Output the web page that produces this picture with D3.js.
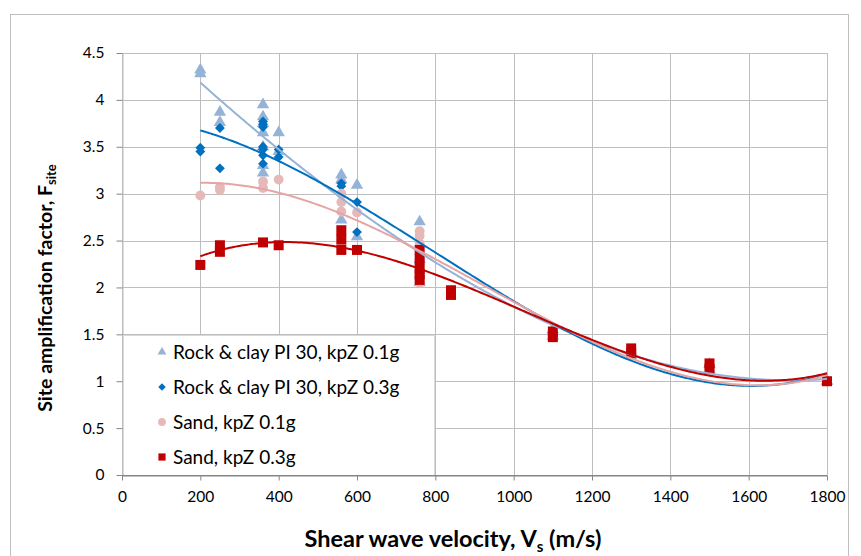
<!DOCTYPE html>
<html>
<head>
<meta charset="utf-8">
<script src="https://cdn.jsdelivr.net/npm/d3@7"></script>
<style>
  html, body { margin: 0; padding: 0; background: #fff; }
  svg { display: block; font-family: Lato, "Open Sans", sans-serif; }
</style>
</head>
<body>
<svg id="chart" width="861" height="556"></svg>
<script>
// Site amplification factor vs. shear wave velocity, four soil / kpZ cases
const seriesNames = [
  "Rock & clay PI 30, kpZ 0.1g",
  "Rock & clay PI 30, kpZ 0.3g",
  "Sand, kpZ 0.1g",
  "Sand, kpZ 0.3g"
];

// Rock & clay PI 30, kpZ 0.1g
const rock01Vs = [200,200, 250,250, 360,360,360,360,360,360,360, 400,400, 560,560,560, 600,600, 760,760,760, 1100,1100, 1300,1300, 1500,1500, 1800,1800];
const rock01F  = [4.32,4.28, 3.87,3.76, 3.95,3.82,3.75,3.65,3.50,3.30,3.22, 3.65,3.45, 3.20,3.15,2.72, 3.09,2.54, 2.70,2.30,2.05, 1.55,1.48, 1.32,1.27, 1.18,1.12, 1.00,1.00];

// Rock & clay PI 30, kpZ 0.3g
const rock03Vs = [200,200, 250,250, 360,360,360,360,360,360,360, 400,400, 560,560, 600,600, 760,760, 1100,1100, 1300,1300, 1500,1500, 1800,1800];
const rock03F  = [3.49,3.45, 3.70,3.27, 3.77,3.74,3.71,3.50,3.47,3.41,3.32, 3.47,3.39, 3.11,3.08, 2.91,2.59, 2.35,2.15, 1.53,1.47, 1.32,1.27, 1.18,1.12, 1.00,1.00];

// Sand, kpZ 0.1g
const sand01Vs = [200, 250,250, 360,360, 400, 560,560,560, 600, 760,760,760,760,760,760, 840, 1100,1100, 1300,1300, 1500,1500, 1800,1800];
const sand01F  = [2.98, 3.07,3.04, 3.13,3.06, 3.15, 3.00,2.91,2.81, 2.80, 2.60,2.55,2.47,2.30,2.15,2.05, 1.96, 1.53,1.48, 1.33,1.28, 1.18,1.12, 1.00,1.00];

// Sand, kpZ 0.3g
const sand03Vs = [200, 250,250, 360, 400, 560,560,560, 600, 760,760,760,760,760, 840,840, 1100,1100, 1300,1300, 1500,1500, 1800];
const sand03F  = [2.24, 2.45,2.38, 2.48, 2.45, 2.61,2.51,2.40, 2.40, 2.40,2.30,2.20,2.14,2.08, 1.97,1.92, 1.53,1.47, 1.35,1.30, 1.19,1.13, 1.00];

const xTicks = [0,200,400,600,800,1000,1200,1400,1600,1800];
const yTicks = [0,0.5,1,1.5,2,2.5,3,3.5,4,4.5];
const xTickLabels = xTicks.map(String);
const yTickLabels = yTicks.map(String);

const markerColors = ["#95B3D7", "#0070C0", "#E6B9B8", "#C00000"];
const lineColors   = ["#95B3D7", "#0070C0", "#E6A5A4", "#C00000"];
const markerShapes = [d3.symbolTriangle, d3.symbolDiamond2, d3.symbolCircle, d3.symbolSquare];
const markerSizes  = [66, 62, 76, 100];
const legendSizes  = [34, 36, 48, 52];

const series = [
  { vs: rock01Vs, f: rock01F },
  { vs: rock03Vs, f: rock03F },
  { vs: sand01Vs, f: sand01F },
  { vs: sand03Vs, f: sand03F }
];

const svg = d3.select("#chart");
const plot = { left: 122, right: 827, top: 53, bottom: 475 };

const x = d3.scaleLinear().domain([0, 1800]).range([plot.left, plot.right]);
const y = d3.scaleLinear().domain([0, 4.5]).range([plot.bottom, plot.top]);

// outer chart frame
svg.append("rect")
  .attr("x", 10.5).attr("y", 14.5).attr("width", 838).attr("height", 560)
  .attr("fill", "none").attr("stroke", "#BFBFBF").attr("stroke-width", 1);

// gridlines
const grid = svg.append("g");
grid.selectAll("line.h").data(yTicks.filter(t => t > 0)).join("line")
  .attr("x1", plot.left).attr("x2", plot.right)
  .attr("y1", d => Math.round(y(d)) + 0.5).attr("y2", d => Math.round(y(d)) + 0.5)
  .attr("stroke", "#BEBEBE").attr("stroke-width", 1);
grid.selectAll("line.v").data(xTicks).join("line")
  .attr("y1", plot.top).attr("y2", plot.bottom)
  .attr("x1", d => Math.round(x(d)) + 0.5).attr("x2", d => Math.round(x(d)) + 0.5)
  .attr("stroke", "#BEBEBE").attr("stroke-width", 1);

// axes
const xAxis = d3.axisBottom(x).tickValues(xTicks).tickFormat((d, i) => xTickLabels[i]).tickSizeInner(5).tickSizeOuter(0).tickPadding(10);
const yAxis = d3.axisLeft(y).tickValues(yTicks).tickFormat((d, i) => yTickLabels[i]).tickSizeInner(6).tickSizeOuter(0).tickPadding(12);

const gx = svg.append("g").attr("transform", `translate(0,${plot.bottom + 0.5})`).call(xAxis);
const gy = svg.append("g").attr("transform", `translate(${plot.left + 0.5},0)`).call(yAxis);
[gx, gy].forEach(g => {
  g.select(".domain").attr("stroke", "#868686");
  g.selectAll(".tick line").attr("stroke", "#868686");
  g.selectAll(".tick text").attr("fill", "#000").style("font-size", "15.5px")
    .style("font-family", "Lato, 'Open Sans', sans-serif");
});
gy.select(".domain").attr("stroke", "#BEBEBE");

// least-squares cubic trendline through each series
function cubicFit(xs, ys) {
  const n = 4, s = 1000;
  const A = Array.from({ length: n }, () => new Array(n + 1).fill(0));
  xs.forEach((xv, k) => {
    const t = xv / s;
    const p = [1, t, t * t, t * t * t];
    for (let i = 0; i < n; i++) {
      for (let j = 0; j < n; j++) A[i][j] += p[i] * p[j];
      A[i][n] += p[i] * ys[k];
    }
  });
  for (let c = 0; c < n; c++) {
    let piv = c;
    for (let r = c + 1; r < n; r++) if (Math.abs(A[r][c]) > Math.abs(A[piv][c])) piv = r;
    [A[c], A[piv]] = [A[piv], A[c]];
    for (let r = 0; r < n; r++) {
      if (r === c) continue;
      const f = A[r][c] / A[c][c];
      for (let j = c; j <= n; j++) A[r][j] -= f * A[c][j];
    }
  }
  const coef = A.map((row, i) => row[n] / row[i]);
  return v => { const t = v / s; return coef[0] + coef[1] * t + coef[2] * t * t + coef[3] * t * t * t; };
}

// markers
series.forEach((sr, i) => {
  svg.append("g").selectAll("path").data(sr.vs.map((v, k) => [v, sr.f[k]])).join("path")
    .attr("transform", d => `translate(${x(d[0])},${y(d[1])})`)
    .attr("d", d3.symbol().type(markerShapes[i]).size(markerSizes[i]))
    .attr("fill", markerColors[i]);
});

// trendlines drawn above the markers
const line = d3.line().x(d => x(d[0])).y(d => y(d[1]));
series.forEach((sr, i) => {
  const fit = cubicFit(sr.vs, sr.f);
  const lo = d3.min(sr.vs), hi = d3.max(sr.vs);
  const pts = d3.range(lo, hi + 1, 5).map(v => [v, fit(v)]);
  svg.append("path").datum(pts)
    .attr("d", line).attr("fill", "none")
    .attr("stroke", lineColors[i]).attr("stroke-width", 2);
});

// legend
const lg = svg.append("g");
lg.append("rect")
  .attr("x", 123.5).attr("y", 335.5).attr("width", 311).attr("height", 140)
  .attr("fill", "#fff").attr("stroke", "#D9D9D9");
seriesNames.forEach((name, i) => {
  const cy = 352 + i * 35;
  lg.append("path")
    .attr("transform", `translate(162,${cy})`)
    .attr("d", d3.symbol().type(markerShapes[i]).size(legendSizes[i]))
    .attr("fill", markerColors[i]);
  lg.append("text")
    .attr("x", 173).attr("y", cy).attr("dy", "0.35em")
    .style("font-size", "19px").attr("fill", "#000")
    .text(name);
});
// zero axis line over the legend box edge
svg.append("line")
  .attr("x1", plot.left).attr("x2", plot.right)
  .attr("y1", plot.bottom + 0.5).attr("y2", plot.bottom + 0.5)
  .attr("stroke", "#868686");

// axis titles
const xt = svg.append("text")
  .attr("x", 453).attr("y", 547).attr("text-anchor", "middle")
  .style("font-size", "23.5px").style("font-weight", "bold").attr("fill", "#000");
xt.append("tspan").text("Shear wave velocity, V");
xt.append("tspan").attr("dy", 5).style("font-size", "15px").text("s");
xt.append("tspan").attr("dy", -5).text(" (m/s)");

const yt = svg.append("text")
  .attr("transform", "translate(52,288) rotate(-90)").attr("text-anchor", "middle")
  .style("font-size", "19.5px").style("font-weight", "bold").attr("fill", "#000");
yt.append("tspan").text("Site amplification factor, F");
yt.append("tspan").attr("dy", 4).style("font-size", "13px").text("site");
</script>
</body>
</html>
